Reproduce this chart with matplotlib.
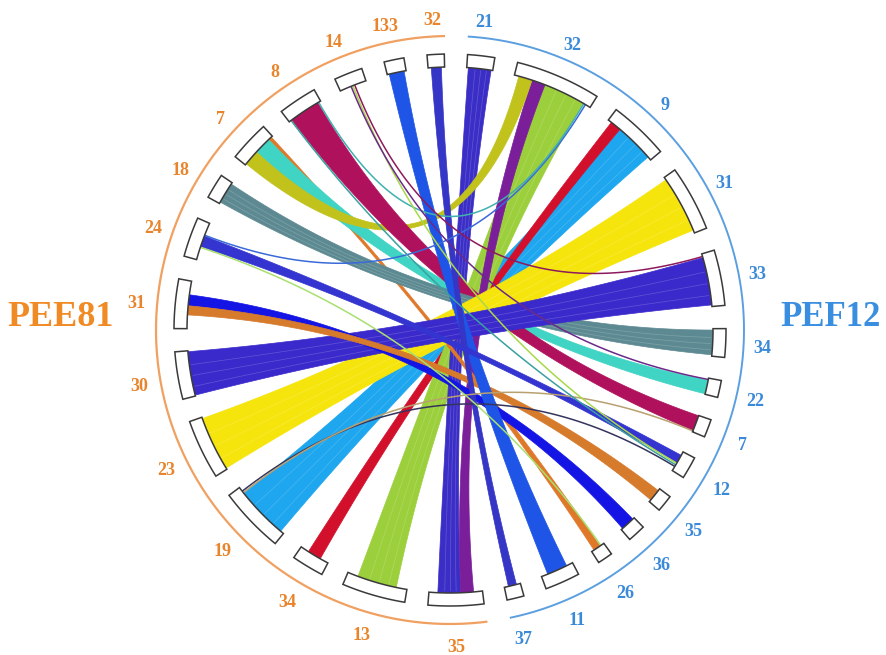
import numpy as np
import matplotlib
matplotlib.use("Agg")
import matplotlib.pyplot as plt
from matplotlib.patches import Polygon

# ---------------- data ----------------
right_labels = ["21", "32", "9", "31", "33", "34", "22", "7", "12", "35", "36", "26", "11", "37"]
right_sizes = [5.7, 18, 12.7, 13.8, 11.7, 6, 3.6, 3.8, 4.7, 3.6, 3.8, 3.2, 7.4, 3.6]
# left group, listed clockwise (bottom -> top)
left_labels = ["35", "13", "34", "19", "23", "30", "31", "24", "18", "7", "8", "14", "133", "32"]
left_sizes = [11.7, 13.4, 6.8, 13.9, 12.6, 10, 10.4, 8.4, 5.3, 8.6, 8.2, 6, 4.2, 3.6]

link_src = ["L24", "L8", "L19", "L19", "L19", "L34", "L13", "L35", "L35", "L7", "L7", "L7", "L8", "L8",
            "L18", "L23", "L30", "L14", "L14", "L14", "L31", "L31", "L133", "L32", "L24", "L24"]
link_tgt = ["R32", "R32", "R12", "R7", "R9", "R9", "R32", "R21", "R32", "R26", "R22", "R32", "R7", "R12",
            "R34", "R31", "R33", "R33", "R12", "R22", "R36", "R35", "R11", "R37", "R12", "R26"]
link_src_w = [0.4, 0.4, 0.4, 0.4, 11.5, 3.0, 8.7, 5.0, 2.8, 0.8, 3.8, 3.4, 6.8, 0.4,
              4.6, 12.0, 9.6, 0.5, 0.4, 0.4, 2.4, 2.0, 3.3, 2.2, 2.4, 0.4]
link_tgt_w = [0.4, 0.4, 0.4, 0.3, 8.6, 2.4, 9.2, 5.0, 3.0, 1.6, 3.0, 3.0, 3.4, 0.4,
              5.4, 12.5, 10.5, 0.5, 0.4, 0.4, 3.0, 2.6, 4.5, 1.8, 1.8, 0.4]
link_colors = ["#3a6ad8", "#40b0b0", "#34345e", "#b8a070", "#1ea6ee", "#d2102c", "#9ccf3c", "#3b2ec6",
               "#7a1e9a", "#e0782a", "#40d4c4", "#c2c21c", "#b0115c", "#3aa0a0", "#5d8a92", "#f6e50c",
               "#3b2acb", "#8c1a5c", "#a8d84a", "#6a2a8a", "#1414e4", "#d67a2c", "#1e55e6", "#3535c6",
               "#3434d0", "#a8e070"]

# ---------------- layout ----------------
CX, CY = 450, 330
R_IN, R_OUT = 263, 276
R_ARC = 294
LAB_CX, LAB_CY, LAB_R = 449, 334, 314
START = 86.35
GAP = (360 - sum(right_sizes) - sum(left_sizes)) / (len(right_sizes) + len(left_sizes))

sectors = {}
th = START
for lab, s in list(zip(["R" + l for l in right_labels], right_sizes)) + \
        list(zip(["L" + l for l in left_labels], left_sizes)):
    sectors[lab] = (th - s, th)
    th = th - s - GAP

# allocate link ends inside sectors (list order, from lower angle)
ends = {}
for key in sectors:
    items = []
    for i in range(len(link_src)):
        if link_src[i] == key:
            items.append((i, 0, link_src_w[i]))
        if link_tgt[i] == key:
            items.append((i, 1, link_tgt_w[i]))
    lo, hi = sectors[key]
    total = sum(w for _, _, w in items)
    a = lo + (hi - lo - total) / 2
    for i, side, w in items:
        ends[(i, side)] = (a, a + w)
        a += w


def xy(theta, r, cx=CX, cy=CY):
    t = np.radians(theta)
    return np.column_stack([cx + r * np.cos(t), cy - r * np.sin(t)])


def arc_pts(a1, a2, r, n=40):
    return xy(np.linspace(a1, a2, n), r)


def bez(p0, p2, n=80):
    t = np.linspace(0, 1, n)[:, None]
    c = np.array([CX, CY])
    return (1 - t) ** 2 * p0 + 2 * (1 - t) * t * c + t ** 2 * p2


fig = plt.figure(figsize=(8.86, 6.55), dpi=100)
ax = fig.add_axes([0, 0, 1, 1])
ax.set_xlim(0, 886)
ax.set_ylim(655, 0)
ax.axis("off")

# ribbons
for i in range(len(link_src)):
    a1, a2 = ends[(i, 0)]
    b1, b2 = ends[(i, 1)]
    z = 3 + i * 0.01
    if max(link_src_w[i], link_tgt_w[i]) < 0.7:
        p0 = xy((a1 + a2) / 2, R_IN)[0]
        p2 = xy((b1 + b2) / 2, R_IN)[0]
        c = bez(p0, p2)
        ax.plot(c[:, 0], c[:, 1], color=link_colors[i], lw=1.1, zorder=5, solid_capstyle="butt")
    else:
        A = arc_pts(a1, a2, R_IN)
        B = arc_pts(b1, b2, R_IN)
        verts = np.vstack([A, bez(A[-1], B[0]), B, bez(B[-1], A[0])])
        ax.add_patch(Polygon(verts, closed=True, facecolor=link_colors[i],
                             edgecolor=link_colors[i], lw=0.5, zorder=z))
        # faint hand-coloured streaks
        if min(link_src_w[i], link_tgt_w[i]) >= 4:
            for f in (0.3, 0.55, 0.8):
                p0 = xy(a1 + f * (a2 - a1), R_IN - 2)[0]
                p2 = xy(b2 - f * (b2 - b1), R_IN - 2)[0]
                c = bez(p0, p2)
                ax.plot(c[:, 0], c[:, 1], color="white", lw=0.5, alpha=0.2, zorder=z + 0.001)

# sector boxes
for key, (lo, hi) in sectors.items():
    verts = np.vstack([arc_pts(lo, hi, R_IN, 20), arc_pts(hi, lo, R_OUT, 20)])
    ax.add_patch(Polygon(verts, closed=True, facecolor="white", edgecolor="#3a3a3a",
                         lw=1.1, zorder=6))

# outer arcs
L_lo = sectors["L32"][0]
L_hi = sectors["L35"][1]
R_hi = sectors["R21"][1]
R_lo = sectors["R37"][0]
p = arc_pts(L_lo, L_hi, R_ARC, 200)
ax.plot(p[:, 0], p[:, 1], color="#f0a060", lw=1.6, zorder=2)
p = arc_pts(R_lo, R_hi, R_ARC, 200)
ax.plot(p[:, 0], p[:, 1], color="#5b9fe0", lw=1.4, zorder=2)

# labels
lab_font = dict(family="Liberation Serif", weight="bold", fontsize=13)
for key, (lo, hi) in sectors.items():
    x, y = xy((lo + hi) / 2, LAB_R, LAB_CX, LAB_CY)[0]
    col = "#e8852c" if key.startswith("L") else "#3b8ad9"
    ax.text(x, y, key[1:], color=col, ha="center", va="center", **lab_font)

ax.text(61, 317, "PEE81", color="#f08a24", ha="center", va="center",
        family="Liberation Serif", weight="bold", fontsize=26)
ax.text(831, 318, "PEF12", color="#3a8ee0", ha="center", va="center",
        family="Liberation Serif", weight="bold", fontsize=25)

fig.savefig("out.png", dpi=100)
